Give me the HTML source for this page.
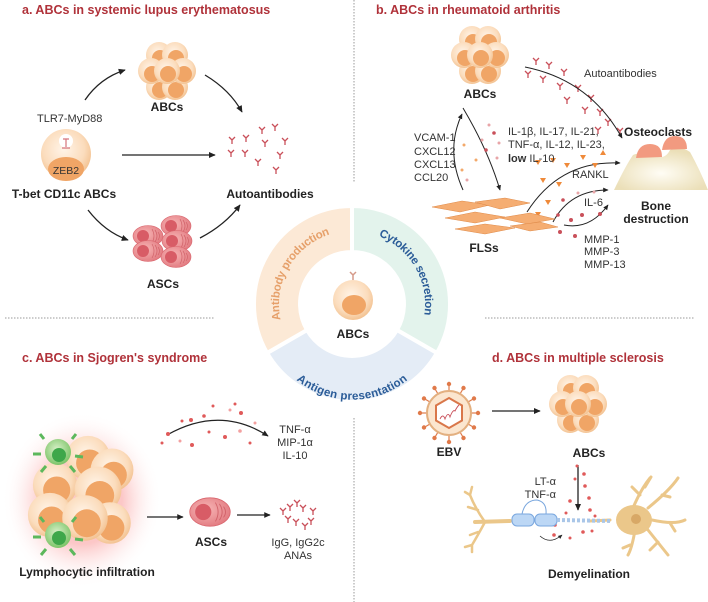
<!DOCTYPE html>
<html><head><meta charset="utf-8"><style>
html,body{margin:0;padding:0;background:#fff}
svg{display:block;font-family:"Liberation Sans",sans-serif}
.t{fill:#b0323a;font-weight:bold;font-size:12.5px}
.b{font-weight:bold;fill:#222;font-size:12px}
.n{fill:#333;font-size:11px}
</style></head><body>
<svg width="708" height="602" viewBox="0 0 708 602">
<defs>
<radialGradient id="cg" cx="45%" cy="40%" r="60%"><stop offset="0" stop-color="#fff4e8"/><stop offset="0.7" stop-color="#fbdcbc"/><stop offset="1" stop-color="#f3c393"/></radialGradient>
<radialGradient id="pg" cx="40%" cy="40%" r="65%"><stop offset="0" stop-color="#f7b5b5"/><stop offset="1" stop-color="#e27a80"/></radialGradient>
<radialGradient id="gg" cx="45%" cy="40%" r="60%"><stop offset="0" stop-color="#d8f0c8"/><stop offset="1" stop-color="#7cc468"/></radialGradient>
<radialGradient id="glow" cx="50%" cy="50%" r="50%"><stop offset="0.5" stop-color="#fbb9b9" stop-opacity="0.8"/><stop offset="1" stop-color="#fff" stop-opacity="0"/></radialGradient>
<marker id="ar" viewBox="0 0 10 10" refX="8" refY="5" markerWidth="6" markerHeight="6" orient="auto"><path d="M0,1 L9,5 L0,9 Z" fill="#222"/></marker>
<g id="cell"><circle r="13" fill="url(#cg)"/><circle cx="1" cy="3" r="8" fill="#f0a566"/></g>
<g id="clu">
<use href="#cell" x="-8" y="-17"/><use href="#cell" x="8" y="-17"/><use href="#cell" x="-8" y="15"/><use href="#cell" x="8" y="15"/>
<use href="#cell" x="-16" y="-1"/><use href="#cell" x="16" y="-1"/><use href="#cell" x="0" y="-1"/></g>
<g id="asc"><ellipse rx="15" ry="10.5" fill="url(#pg)" stroke="#d9656d" stroke-width="0.6"/><circle cx="-5" cy="0" r="6" fill="#d85c66"/><path d="M4,-7 q4,7 0,14 M7,-6 q4,6 0,12 M10,-4 q3,4 0,8" stroke="#d2646b" fill="none" stroke-width="0.7"/></g>
<path id="ab" d="M0,0 L0,4 M0,0 L-3,-3 M0,0 L3,-3" stroke="#c9505a" stroke-width="1.3" fill="none"/>
<g id="gc"><circle r="13" fill="url(#gg)"/><circle cx="1" cy="3" r="7" fill="#3ea74a"/>
<g stroke="#5cb85c" stroke-width="3"><path d="M-14,-13 l-4,-5"/><path d="M14,-13 l4,-5"/><path d="M-17,2 l-8,0"/><path d="M17,4 l8,1"/><path d="M-12,14 l-5,6"/><path d="M12,14 l5,6"/></g></g>
<radialGradient id="bg" cx="50%" cy="60%" r="55%"><stop offset="0" stop-color="#fffdf5"/><stop offset="1" stop-color="#ebdfb8"/></radialGradient>
</defs>

<g stroke="#bbb" stroke-width="1.5" stroke-dasharray="1.5 1.5">
<line x1="354" y1="0" x2="354" y2="183"/><line x1="354" y1="418" x2="354" y2="602"/>
<line x1="5" y1="318" x2="215" y2="318"/><line x1="485" y1="318" x2="695" y2="318"/></g>

<!-- Panel a -->
<text class="t" x="22" y="14">a. ABCs in systemic lupus erythematosus</text>
<use href="#clu" x="167" y="72"/>
<text class="b" x="167" y="111" text-anchor="middle">ABCs</text>
<text class="n" x="37" y="122">TLR7-MyD88</text>
<circle cx="66" cy="154" r="25" fill="url(#cg)"/>
<ellipse cx="66" cy="169" rx="18" ry="12" fill="#f0a566"/>
<text x="66" y="174" font-size="10.5" fill="#333" text-anchor="middle">ZEB2</text>
<circle cx="66" cy="141" r="7" fill="#fff"/><path d="M63,139 h6 M66,139 v8 M62,148 h8" stroke="#d5747c" stroke-width="1.2"/>
<text class="b" x="64" y="198" text-anchor="middle" font-size="13">T-bet CD11c ABCs</text>
<text class="b" x="270" y="198" text-anchor="middle" font-size="13">Autoantibodies</text>
<g><use href="#ab" x="232" y="140"/><use href="#ab" x="246" y="138"/><use href="#ab" x="262" y="130"/><use href="#ab" x="275" y="127"/><use href="#ab" x="285" y="141"/><use href="#ab" x="265" y="143"/><use href="#ab" x="231" y="153"/><use href="#ab" x="245" y="153"/><use href="#ab" x="280" y="155"/><use href="#ab" x="258" y="162"/><use href="#ab" x="276" y="170"/></g>
<g stroke="#222" stroke-width="1.3" fill="none" marker-end="url(#ar)">
<path d="M85,100 Q100,78 125,70"/><path d="M205,75 Q230,90 242,112"/><path d="M122,155 L215,155"/><path d="M88,210 Q105,232 128,240"/><path d="M200,238 Q225,225 240,205"/></g>
<use href="#asc" x="176" y="226"/><use href="#asc" x="148" y="236"/><use href="#asc" x="177" y="241"/><use href="#asc" x="148" y="251"/><use href="#asc" x="176" y="257"/>
<text class="b" x="163" y="288" text-anchor="middle">ASCs</text>

<!-- Panel b -->
<text class="t" x="376" y="14">b. ABCs in rheumatoid arthritis</text>
<use href="#clu" x="480" y="56"/>
<text class="b" x="480" y="98" text-anchor="middle">ABCs</text>
<text class="n" x="584" y="77">Autoantibodies</text>
<g stroke="#d8808a"><use href="#ab" x="536" y="61"/><use href="#ab" x="549" y="65"/><use href="#ab" x="564" y="72"/><use href="#ab" x="528" y="74"/><use href="#ab" x="543" y="79"/><use href="#ab" x="560" y="86"/><use href="#ab" x="578" y="88"/><use href="#ab" x="591" y="98"/><use href="#ab" x="567" y="100"/><use href="#ab" x="585" y="110"/><use href="#ab" x="600" y="112"/><use href="#ab" x="608" y="122"/><use href="#ab" x="620" y="131"/><use href="#ab" x="598" y="130"/></g>
<g stroke="#222" stroke-width="1" fill="none" marker-end="url(#ar)">
<path d="M525,67 Q590,80 622,138"/>
<path d="M463,108 Q488,150 500,190"/><path d="M463,190 Q445,150 462,114"/>
<path d="M527,212 Q560,160 620,163"/><path d="M553,222 Q570,190 608,190"/><path d="M564,225 Q590,230 608,205"/></g>
<g fill="#e8a5a8"><circle cx="489" cy="125" r="1.5"/><circle cx="494" cy="133" r="1.8" fill="#c9505a"/><circle cx="482" cy="140" r="1.5"/><circle cx="499" cy="143" r="1.5"/><circle cx="486" cy="150" r="1.8" fill="#c9505a"/><circle cx="497" cy="158" r="1.5"/><circle cx="476" cy="160" r="1.5" fill="#f3a96a"/><circle cx="464" cy="145" r="1.5" fill="#f3a96a"/><circle cx="462" cy="170" r="1.5" fill="#f3a96a"/><circle cx="467" cy="180" r="1.5"/></g>
<g fill="#ef8a3a"><path d="M535,160 l3,5 l3,-5z"/><path d="M550,158 l3,5 l3,-5z"/><path d="M564,163 l3,5 l3,-5z"/><path d="M580,155 l3,5 l3,-5z"/><path d="M592,163 l3,5 l3,-5z"/><path d="M540,178 l3,5 l3,-5z"/><path d="M556,182 l3,5 l3,-5z"/><path d="M545,200 l3,5 l3,-5z"/><path d="M535,212 l3,5 l3,-5z"/><path d="M600,155 l3,-5 l3,5z"/></g>
<g fill="#c9505a"><circle cx="563" cy="200" r="1.8"/><circle cx="578" cy="193" r="1.5" fill="#e8a5a8"/><circle cx="594" cy="192" r="1.5" fill="#e8a5a8"/><circle cx="558" cy="215" r="1.8"/><circle cx="571" cy="220" r="2"/><circle cx="582" cy="215" r="2"/><circle cx="560" cy="232" r="2"/><circle cx="575" cy="236" r="2"/><circle cx="600" cy="214" r="2"/></g>
<g class="n"><text x="414" y="141">VCAM-1</text><text x="414" y="155">CXCL12</text><text x="414" y="168">CXCL13</text><text x="414" y="181">CCL20</text>
<text x="508" y="135">IL-1β, IL-17, IL-21,</text><text x="508" y="148">TNF-α, IL-12, IL-23,</text><text x="508" y="162"><tspan font-weight="bold">low</tspan> IL-10</text>
<text x="572" y="178">RANKL</text><text x="584" y="206">IL-6</text><text x="584" y="243">MMP-1</text><text x="584" y="255">MMP-3</text><text x="584" y="268">MMP-13</text></g>
<g fill="#f5ad72" stroke="#e08a48" stroke-width="0.5"><path d="M432,207 l30,-6 l28,4 l-30,7z"/><path d="M475,202 l30,-4 l25,5 l-30,6z"/><path d="M445,218 l30,-6 l30,5 l-30,6z"/><path d="M500,218 l30,-5 l25,6 l-28,5z"/><path d="M455,229 l30,-5 l30,4 l-30,6z"/><path d="M510,226 l30,-4 l18,5 l-28,4z"/></g>
<text class="b" x="484" y="252" text-anchor="middle">FLSs</text>
<path d="M614,190 Q626,165 633,155 Q645,150 655,156 Q665,160 670,150 Q680,145 690,152 Q700,170 708,190 Z" fill="url(#bg)"/>
<path d="M636,158 q2,-14 14,-14 q12,0 12,13 z" fill="#f29a80"/><path d="M662,150 q2,-14 13,-14 q12,0 12,13 z" fill="#f29a80"/>
<text class="b" x="624" y="136">Osteoclasts</text>
<text class="b" x="656" y="210" text-anchor="middle">Bone</text><text class="b" x="656" y="223" text-anchor="middle">destruction</text>

<!-- Donut -->
<g stroke="#fff" stroke-width="4">
<path d="M352,206 A98,98 0 0 1 436.9,353 L397,330 A52,52 0 0 0 352,252 Z" fill="#e3f3ec"/>
<path d="M436.9,353 A98,98 0 0 1 267.1,353 L307,330 A52,52 0 0 0 397,330 Z" fill="#e4ecf6"/>
<path d="M267.1,353 A98,98 0 0 1 352,206 L352,252 A52,52 0 0 0 307,330 Z" fill="#fce9d6"/></g>
<path id="p1" d="M279.6,330.3 A77,77 0 0 1 338.6,228.2" fill="none"/>
<path id="p2" d="M365.4,228.2 A77,77 0 0 1 424.4,330.3" fill="none"/>
<path id="p3" d="M280,355 A84,84 0 0 0 424,355" fill="none"/>
<text font-size="11.5" font-weight="bold" fill="#e6a06a" dy="4"><textPath href="#p1" startOffset="50%" text-anchor="middle">Antibody production</textPath></text>
<text font-size="11.5" font-weight="bold" fill="#2b5c98" dy="4"><textPath href="#p2" startOffset="50%" text-anchor="middle">Cytokine secretion</textPath></text>
<text font-size="11.5" font-weight="bold" fill="#2b5c98" dy="4"><textPath href="#p3" startOffset="50%" text-anchor="middle">Antigen presentation</textPath></text>
<circle cx="353" cy="300" r="20" fill="url(#cg)"/><ellipse cx="354" cy="305" rx="12" ry="10" fill="#f0a566"/>
<path d="M353,280 v-5 M353,275 l-3,-3 M353,275 l3,-3" stroke="#d59a8a" stroke-width="1.5" fill="none"/>
<text class="b" x="353" y="338" text-anchor="middle" font-size="13">ABCs</text>

<!-- Panel c -->
<text class="t" x="22" y="362">c. ABCs in Sjogren's syndrome</text>
<ellipse cx="82" cy="500" rx="80" ry="88" fill="url(#glow)"/>
<use href="#cell" transform="translate(88,458) scale(1.7)"/><use href="#cell" transform="translate(112,470) scale(1.65)"/>
<use href="#cell" transform="translate(55,485) scale(1.7)"/><use href="#cell" transform="translate(98,490) scale(1.8)"/>
<use href="#cell" transform="translate(50,515) scale(1.7)"/><use href="#cell" transform="translate(110,523) scale(1.6)"/><use href="#cell" transform="translate(85,518) scale(1.75)"/>
<use href="#gc" x="58" y="452"/><use href="#gc" x="58" y="535"/>
<text class="b" x="87" y="576" text-anchor="middle">Lymphocytic infiltration</text>
<g stroke="#222" stroke-width="1.2" fill="none" marker-end="url(#ar)"><path d="M147,517 L183,517"/><path d="M237,515 L270,515"/><path d="M167,435 Q220,405 268,436"/></g>
<g fill="#e05a5a"><circle cx="168" cy="434" r="2"/><circle cx="182" cy="421" r="1.5"/><circle cx="191" cy="420" r="2"/><circle cx="204" cy="416" r="1.8"/><circle cx="213" cy="406" r="1.5"/><circle cx="235" cy="404" r="1.5"/><circle cx="241" cy="413" r="2"/><circle cx="180" cy="441" r="1.5" fill="#f3a0a0"/><circle cx="192" cy="445" r="2"/><circle cx="209" cy="432" r="1.5"/><circle cx="225" cy="437" r="2"/><circle cx="230" cy="410" r="1.5" fill="#f3a0a0"/><circle cx="240" cy="431" r="1.8" fill="#f3a0a0"/><circle cx="250" cy="443" r="1.5"/><circle cx="255" cy="423" r="1.5" fill="#f3a0a0"/><circle cx="162" cy="443" r="1.5"/></g>
<g class="n" text-anchor="middle"><text x="295" y="433">TNF-α</text><text x="295" y="446">MIP-1α</text><text x="295" y="459">IL-10</text><text x="298" y="546">IgG, IgG2c</text><text x="298" y="559">ANAs</text></g>
<use href="#asc" transform="translate(210,512) scale(1.35)"/>
<text class="b" x="211" y="546" text-anchor="middle" font-size="11">ASCs</text>
<g><use href="#ab" x="283" y="511"/><use href="#ab" x="290" y="507"/><use href="#ab" x="297" y="503"/><use href="#ab" x="303" y="508"/><use href="#ab" x="313" y="511"/><use href="#ab" x="288" y="519"/><use href="#ab" x="296" y="522"/><use href="#ab" x="305" y="526"/><use href="#ab" x="311" y="521"/></g>

<!-- Panel d -->
<text class="t" x="492" y="362">d. ABCs in multiple sclerosis</text>
<g transform="translate(449,413)">
<g stroke="#e07a4a" stroke-width="1.2" fill="#e07a4a">
<line x1="0" y1="-22" x2="0" y2="-29"/><line x1="0" y1="22" x2="0" y2="29"/><line x1="-22" y1="0" x2="-29" y2="0"/><line x1="22" y1="0" x2="29" y2="0"/>
<line x1="11" y1="-19" x2="14.5" y2="-25"/><line x1="-11" y1="-19" x2="-14.5" y2="-25"/><line x1="11" y1="19" x2="14.5" y2="25"/><line x1="-11" y1="19" x2="-14.5" y2="25"/>
<line x1="19" y1="-11" x2="25" y2="-14.5"/><line x1="-19" y1="-11" x2="-25" y2="-14.5"/><line x1="19" y1="11" x2="25" y2="14.5"/><line x1="-19" y1="11" x2="-25" y2="14.5"/>
<circle cx="0" cy="-29" r="1.6"/><circle cx="0" cy="29" r="1.6"/><circle cx="-29" cy="0" r="1.6"/><circle cx="29" cy="0" r="1.6"/><circle cx="14.5" cy="-25" r="1.6"/><circle cx="-14.5" cy="-25" r="1.6"/><circle cx="14.5" cy="25" r="1.6"/><circle cx="-14.5" cy="25" r="1.6"/><circle cx="25" cy="-14.5" r="1.6"/><circle cx="-25" cy="-14.5" r="1.6"/><circle cx="25" cy="14.5" r="1.6"/><circle cx="-25" cy="14.5" r="1.6"/></g>
<circle r="22" fill="#fbe6cf" stroke="#e3b080" stroke-width="2"/>
<polygon points="0,-15 13,-7.5 13,7.5 0,15 -13,7.5 -13,-7.5" fill="#fff" stroke="#d9774a" stroke-width="2"/>
<path d="M-9,6 q3,-6 5,0 q3,-8 5,-2 q3,-8 5,-6 q2,-4 4,-6" stroke="#c9505a" fill="none" stroke-width="0.9"/></g>
<text class="b" x="449" y="456" text-anchor="middle" font-size="11">EBV</text>
<path d="M492,411 L540,411" stroke="#222" stroke-width="1.3" marker-end="url(#ar)"/>
<use href="#clu" x="578" y="405"/>
<text class="b" x="589" y="457" text-anchor="middle" font-size="11">ABCs</text>
<g class="n" text-anchor="end"><text x="556" y="485">LT-α</text><text x="556" y="498">TNF-α</text></g>
<path d="M578,465 L578,510" stroke="#222" stroke-width="1.3" marker-end="url(#ar)"/>
<g fill="#e05a5a"><circle cx="577" cy="466" r="1.5"/><circle cx="584" cy="474" r="1.8"/><circle cx="575" cy="479" r="1.5"/><circle cx="585" cy="486" r="1.8"/><circle cx="589" cy="498" r="1.8"/><circle cx="570" cy="501" r="1.8"/><circle cx="590" cy="510" r="1.8"/><circle cx="566" cy="513" r="1.5"/><circle cx="595" cy="516" r="1.5"/><circle cx="555" cy="525" r="1.8"/><circle cx="583" cy="532" r="1.8"/><circle cx="592" cy="531" r="1.5"/><circle cx="570" cy="538" r="1.5"/><circle cx="554" cy="535" r="1.8"/></g>
<g stroke="#ebc78a" fill="none" stroke-linecap="round">
<path d="M510,521 L475,522" stroke-width="4"/><path d="M485,522 Q475,508 470,495 M470,495 l-5,-3 M470,495 l2,-8 M478,510 l-10,-3 M485,522 Q478,535 472,545 M472,545 l-7,2 M472,545 l0,7 M478,532 l-8,3" stroke-width="2.5"/>
<path d="M610,520 L590,521" stroke-width="3"/>
<path d="M630,515 Q640,490 650,478 M640,495 l-8,-8 M645,487 l6,-10 M648,508 Q670,490 678,478 M662,495 l8,2 M652,520 Q675,525 685,520 M670,523 l5,8 M648,530 Q660,545 668,555 M658,542 l-8,8 M635,530 Q632,548 628,555 M630,545 l-7,3" stroke-width="3"/></g>
<ellipse cx="634" cy="520" rx="18" ry="15" fill="#ebc78a"/><circle cx="636" cy="519" r="5" fill="#d8a866"/>
<rect x="512" y="514" width="22" height="12" rx="5" fill="#bcd7f5" stroke="#7aa7de"/><rect x="535" y="514" width="22" height="12" rx="5" fill="#bcd7f5" stroke="#7aa7de"/>
<path d="M522,514 Q525,500 537,500 Q547,502 546,514" stroke="#7aa7de" fill="none"/>
<path d="M557,520 L612,521" stroke="#a9c6e8" stroke-width="4" stroke-dasharray="3 2"/>
<path d="M540,536 Q550,545 562,535" stroke="#222" fill="none" stroke-width="0.8" marker-end="url(#ar)"/>
<text class="b" x="589" y="578" text-anchor="middle" font-size="11">Demyelination</text>
</svg>
</body></html>
